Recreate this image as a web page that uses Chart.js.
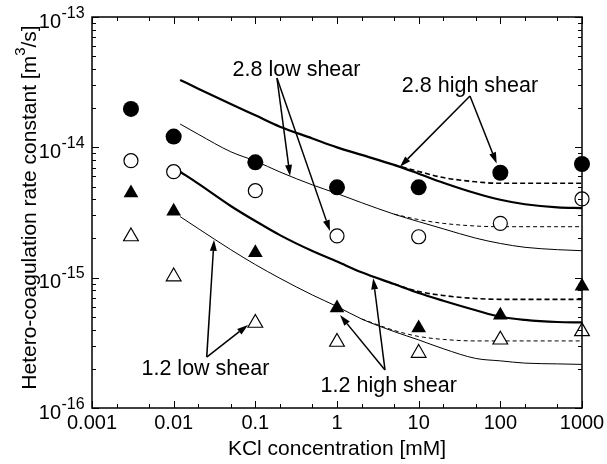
<!DOCTYPE html>
<html>
<head>
<meta charset="utf-8">
<script src="https://cdn.jsdelivr.net/npm/chart.js@4.4.0/dist/chart.umd.min.js"></script>
<style>
  html, body { margin: 0; padding: 0; background: #fff; }
  #wrap { width: 607px; height: 464px; position: relative; }
</style>
</head>
<body>
<div id="wrap"><canvas id="chart"></canvas></div>
<script>
// measured rate constants [m3/s] vs KCl [mM]
const xData = [0.003, 0.01, 0.1, 1, 10, 100, 1000];
const filledCircle = [1.97e-14, 1.21e-14, 7.67e-15, 4.93e-15, 4.93e-15, 6.38e-15, 7.45e-15];
const openCircle = [7.9e-15, 6.5e-15, 4.65e-15, 2.09e-15, 2.06e-15, 2.61e-15, 4.02e-15];
const filledTriangle = [4.47e-15, 3.23e-15, 1.55e-15, 5.85e-16, 4.11e-16, 5.14e-16, 8.59e-16];
const openTriangle = [2.07e-15, 1.02e-15, 4.49e-16, 3.21e-16, 2.64e-16, 3.34e-16, 3.87e-16];

// model curves
const xLine = [0.012, 0.02, 0.05, 0.1, 0.2, 0.5, 1, 2, 5, 10, 20, 50, 100, 200, 500, 1000];
const high28 = [3.29e-14, 2.82e-14, 2.15e-14, 1.76e-14, 1.44e-14, 1.17e-14, 1.00e-14, 8.75e-15, 7.33e-15, 6.28e-15, 5.35e-15, 4.44e-15, 3.96e-15, 3.66e-15, 3.46e-15, 3.42e-15];
const high28Dash = [null, null, null, null, null, null, null, null, 7.33e-15, 6.53e-15, 5.86e-15, 5.44e-15, 5.30e-15, 5.30e-15, 5.30e-15, 5.30e-15];
const low28 = [1.51e-14, 1.26e-14, 9.25e-15, 7.85e-15, 6.47e-15, 5.15e-15, 4.42e-15, 3.76e-15, 3.07e-15, 2.69e-15, 2.37e-15, 2.01e-15, 1.83e-15, 1.71e-15, 1.64e-15, 1.61e-15];
const low28Dash = [null, null, null, null, null, null, null, null, 3.07e-15, 2.79e-15, 2.61e-15, 2.49e-15, 2.46e-15, 2.46e-15, 2.46e-15, 2.46e-15];
const high12 = [6.50e-15, 5.27e-15, 3.55e-15, 2.72e-15, 2.12e-15, 1.60e-15, 1.33e-15, 1.10e-15, 8.93e-16, 7.62e-16, 6.65e-16, 5.62e-16, 5.01e-16, 4.74e-16, 4.57e-16, 4.54e-16];
const high12Dash = [null, null, null, null, null, null, null, null, 8.93e-16, 7.83e-16, 7.30e-16, 6.92e-16, 6.82e-16, 6.82e-16, 6.82e-16, 6.82e-16];
const low12 = [2.94e-15, 2.38e-15, 1.64e-15, 1.26e-15, 9.89e-16, 7.36e-16, 6.01e-16, 4.82e-16, 3.86e-16, 3.33e-16, 2.85e-16, 2.40e-16, 2.30e-16, 2.21e-16, 2.18e-16, 2.16e-16];
const low12Dash = [null, null, null, null, null, null, null, 4.82e-16, 3.94e-16, 3.54e-16, 3.36e-16, 3.27e-16, 3.27e-16, 3.27e-16, 3.27e-16, 3.27e-16];

// axes
const xTickValues = [0.001, 0.01, 0.1, 1, 10, 100, 1000];
const xTickLabels = ['0.001', '0.01', '0.1', '1', '10', '100', '1000'];
const yTickValues = [1e-16, 1e-15, 1e-14, 1e-13];
const yTickExponents = ['-16', '-15', '-14', '-13'];

// labels with arrows, in data coordinates
const notes = [
  { text: '2.8 low shear', at: [0.319, 3.92e-14], from: [0.184, 3.40e-14], to: [[0.266, 6.03e-15], [0.82, 2.28e-15]] },
  { text: '2.8 high shear', at: [42.5, 2.96e-14], from: [42.5, 2.48e-14], to: [[5.9, 7.1e-15], [90.2, 7.53e-15]] },
  { text: '1.2 low shear', at: [0.0245, 1.98e-16], from: [0.0254, 2.46e-16], to: [[0.0312, 1.95e-15], [0.0813, 4.34e-16]] },
  { text: '1.2 high shear', at: [4.3, 1.48e-16], from: [3.87, 1.96e-16], to: [[2.78, 9.88e-16], [1.09, 5.16e-16]] },
];

const FONT = '"Liberation Sans", Arial, Helvetica, sans-serif';

const pts = vals => xData.map((x, i) => ({ x, y: vals[i] }));
const curve = vals => xLine.map((x, i) => ({ x, y: vals[i] })).filter(p => p.y !== null);

const marker = (vals, style, r, fill) => ({
  data: pts(vals),
  pointStyle: style,
  pointRadius: r,
  pointHoverRadius: r,
  pointBackgroundColor: fill,
  pointBorderColor: '#000',
  pointBorderWidth: fill === '#000' ? 0 : 1.2,
  showLine: false,
  clip: false,
});
const line = (vals, width, dash) => ({
  data: curve(vals),
  showLine: true,
  pointRadius: 0,
  borderColor: '#000',
  borderWidth: width,
  borderDash: dash || [],
  cubicInterpolationMode: 'monotone',
  fill: false,
});

function arrow(ctx, x0, y0, x1, y1) {
  const ang = Math.atan2(y1 - y0, x1 - x0);
  const len = 11, half = 3.5;
  const bx = x1 - len * Math.cos(ang), by = y1 - len * Math.sin(ang);
  ctx.beginPath();
  ctx.moveTo(x0, y0);
  ctx.lineTo(bx, by);
  ctx.stroke();
  ctx.beginPath();
  ctx.moveTo(x1, y1);
  ctx.lineTo(bx + half * Math.sin(ang), by - half * Math.cos(ang));
  ctx.lineTo(bx - half * Math.sin(ang), by + half * Math.cos(ang));
  ctx.closePath();
  ctx.fill();
}

const frame = {
  id: 'frame',
  afterDatasetsDraw(chart) {
    const { ctx, chartArea: a, scales: { x, y } } = chart;
    ctx.save();
    ctx.strokeStyle = '#000';
    ctx.fillStyle = '#000';

    // box
    ctx.lineWidth = 1.5;
    ctx.strokeRect(a.left, a.top, a.right - a.left, a.bottom - a.top);

    // inward ticks
    ctx.lineWidth = 1;
    ctx.beginPath();
    xTickValues.forEach((v, i) => {
      const mults = i < xTickValues.length - 1 ? [1, 2, 5] : [1];
      mults.forEach(m => {
        const px = Math.round(x.getPixelForValue(v * m)) + 0.5;
        const len = m === 1 ? 7 : 4;
        ctx.moveTo(px, a.bottom); ctx.lineTo(px, a.bottom - len);
        ctx.moveTo(px, a.top); ctx.lineTo(px, a.top + len);
      });
    });
    yTickValues.forEach((v, i) => {
      const mults = i < yTickValues.length - 1 ? [1, 2, 3, 4, 5, 6, 7, 8, 9] : [1];
      mults.forEach(m => {
        const py = Math.round(y.getPixelForValue(v * m)) + 0.5;
        const len = m === 1 ? 7 : 4;
        ctx.moveTo(a.left, py); ctx.lineTo(a.left + len, py);
        ctx.moveTo(a.right, py); ctx.lineTo(a.right - len, py);
      });
    });
    ctx.stroke();

    // x tick labels
    ctx.font = `20px ${FONT}`;
    ctx.textAlign = 'center';
    ctx.textBaseline = 'alphabetic';
    xTickValues.forEach((v, i) => {
      ctx.fillText(xTickLabels[i], x.getPixelForValue(v), a.bottom + 20.5);
    });

    // y tick labels 10^n
    yTickValues.forEach((v, i) => {
      const py = y.getPixelForValue(v);
      ctx.font = `20px ${FONT}`;
      ctx.textAlign = 'right';
      ctx.fillText('10', 61, py + 10.5);
      ctx.font = `16px ${FONT}`;
      ctx.textAlign = 'left';
      ctx.fillText(yTickExponents[i], 61.5, py + 0.5);
    });

    // x title
    ctx.font = `21px ${FONT}`;
    ctx.textAlign = 'center';
    ctx.fillText('KCl concentration [mM]', (a.left + a.right) / 2, 455);

    // y title with superscript
    ctx.save();
    ctx.translate(36, 207.5);
    ctx.rotate(-Math.PI / 2);
    const p1 = 'Hetero-coagulation rate constant [m', sup = '3', p2 = '/s]';
    ctx.font = `21px ${FONT}`;
    const w1 = ctx.measureText(p1).width, w3 = ctx.measureText(p2).width;
    ctx.font = `15px ${FONT}`;
    const w2 = ctx.measureText(sup).width;
    let cx = -(w1 + w2 + w3) / 2;
    ctx.textAlign = 'left';
    ctx.font = `21px ${FONT}`;
    ctx.fillText(p1, cx, 0); cx += w1;
    ctx.font = `15px ${FONT}`;
    ctx.fillText(sup, cx, -11); cx += w2;
    ctx.font = `21px ${FONT}`;
    ctx.fillText(p2, cx, 0);
    ctx.restore();

    // annotations
    ctx.lineWidth = 1.5;
    notes.forEach(n => {
      ctx.font = `21.5px ${FONT}`;
      ctx.textAlign = 'center';
      ctx.textBaseline = 'middle';
      ctx.fillText(n.text, x.getPixelForValue(n.at[0]), y.getPixelForValue(n.at[1]));
      const fx = x.getPixelForValue(n.from[0]), fy = y.getPixelForValue(n.from[1]);
      n.to.forEach(([tx, ty]) => arrow(ctx, fx, fy, x.getPixelForValue(tx), y.getPixelForValue(ty)));
    });
    ctx.restore();
  }
};

new Chart(document.getElementById('chart'), {
  type: 'scatter',
  data: {
    datasets: [
      marker(filledCircle, 'circle', 8, '#000'),
      marker(openCircle, 'circle', 7, '#fff'),
      marker(filledTriangle, 'triangle', 8.5, '#000'),
      marker(openTriangle, 'triangle', 8.5, '#fff'),
      line(high28, 2.2),
      line(high28Dash, 1.6, [5, 3]),
      line(low28, 1),
      line(low28Dash, 1, [4, 3]),
      line(high12, 2.2),
      line(high12Dash, 1.6, [5, 3]),
      line(low12, 1),
      line(low12Dash, 1, [4, 3]),
    ]
  },
  options: {
    responsive: true,
    maintainAspectRatio: false,
    animation: false,
    layout: { padding: { left: 92, top: 17, right: 25, bottom: 56 } },
    plugins: { legend: { display: false }, tooltip: { enabled: false } },
    scales: {
      x: { type: 'logarithmic', min: 0.001, max: 1000, display: false },
      y: { type: 'logarithmic', min: 1e-16, max: 1e-13, display: false },
    }
  },
  plugins: [frame]
});
</script>
</body>
</html>
